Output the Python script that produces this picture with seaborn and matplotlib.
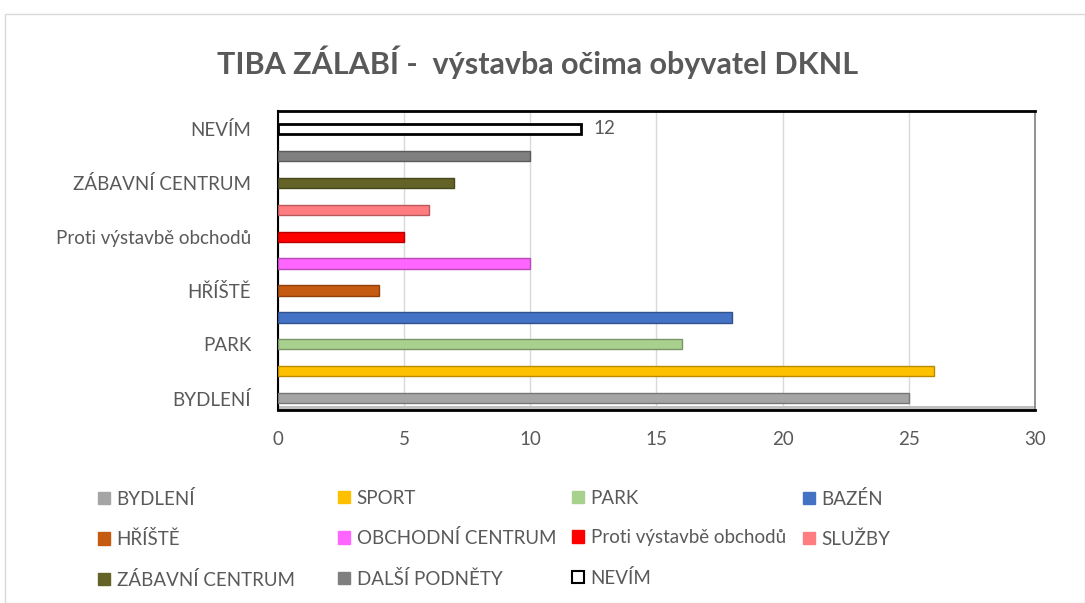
import matplotlib
matplotlib.use("Agg")
import matplotlib.pyplot as plt
import matplotlib.patches as mpatches
import seaborn as sns
import pandas as pd

categories = ["BYDLENÍ", "SPORT", "PARK", "BAZÉN", "HŘÍŠTĚ", "OBCHODNÍ CENTRUM",
              "Proti výstavbě obchodů", "SLUŽBY", "ZÁBAVNÍ CENTRUM", "DALŠÍ PODNĚTY", "NEVÍM"]
values = [25, 26, 16, 18, 4, 10, 5, 6, 7, 10, 12]
colors = ["#A5A5A5", "#FFC000", "#A9D18E", "#4472C4", "#C55A11", "#FF66FF",
          "#FF0000", "#FF7C80", "#636328", "#7F7F7F", "#FFFFFF"]
shown_ticks = ["BYDLENÍ", "PARK", "HŘÍŠTĚ", "Proti výstavbě obchodů", "ZÁBAVNÍ CENTRUM", "NEVÍM"]
x_ticks = [0, 5, 10, 15, 20, 25, 30]

sns.set_style("white")
plt.rcParams["font.family"] = ["Lato", "DejaVu Sans"]
TXT = "#595959"
FS = 13.5

df = pd.DataFrame({"kategorie": categories, "pocet": values})
order = categories[::-1]  # BYDLENÍ at the bottom

fig = plt.figure(figsize=(10.85, 6.03), dpi=100)
ax = fig.add_axes([0.256, 0.320, 0.698, 0.496])

sns.barplot(data=df, y="kategorie", x="pocet", hue="kategorie", order=order,
            hue_order=categories, palette=dict(zip(categories, colors)),
            dodge=False, legend=False, width=0.38, saturation=1, ax=ax, zorder=3)

# darker edge to mimic Excel's 3D bars
for patch in ax.patches:
    fc = patch.get_facecolor()
    if fc[:3] == (1.0, 1.0, 1.0):
        patch.set_edgecolor("black")
        patch.set_linewidth(2)
    else:
        patch.set_edgecolor(tuple(c * 0.72 for c in fc[:3]))
        patch.set_linewidth(1)

ax.set_xlim(0, 30)
ax.set_ylim(len(categories) - 0.56, -0.67)
ax.set_xticks(x_ticks)
ax.set_xticklabels([str(t) for t in x_ticks], fontsize=FS, color=TXT)
ax.tick_params(axis="x", pad=15, length=0)
ax.tick_params(axis="y", length=0, pad=19)
ax.set_yticks(range(len(order)))
ax.set_yticklabels([c if c in shown_ticks else "" for c in order], fontsize=FS, color=TXT)
ax.set_xlabel("")
ax.set_ylabel("")
ax.grid(axis="x", color="#D9D9D9", linewidth=1, zorder=0)

ax.spines["left"].set_color("black")
ax.spines["left"].set_linewidth(1.5)
ax.spines["top"].set_color("black")
ax.spines["top"].set_linewidth(2)
ax.spines["right"].set_color("#7F7F7F")
ax.spines["right"].set_linewidth(1.2)
ax.spines["bottom"].set_color("black")
ax.spines["bottom"].set_linewidth(2)
# grey floor strip of the 3D chart
ax.add_patch(mpatches.Rectangle((0, 0), 1, 0.014, transform=ax.transAxes,
                                facecolor="#BFBFBF", edgecolor="none", zorder=2))

# data label for NEVÍM
ax.text(12 + 0.5, order.index("NEVÍM"), "12", va="center", ha="left", fontsize=FS, color=TXT)

fig.suptitle("TIBA ZÁLABÍ -  výstavba očima obyvatel DKNL", x=0.495, y=0.925,
             fontsize=22, fontweight="bold", color=TXT)

handles = []
for c, col in zip(categories, colors):
    if col == "#FFFFFF":
        handles.append(mpatches.Patch(facecolor="white", edgecolor="black", linewidth=1.5, label=c))
    else:
        handles.append(mpatches.Patch(facecolor=col, edgecolor=col, label=c))

# Excel legend: 4 equal-width columns filled row by row
col_x = [88, 328, 562, 793]
for j, x in enumerate(col_x):
    fig.legend(handles=handles[j::4], loc="upper left",
               bbox_to_anchor=((x - 7) / 1085, 0.216), frameon=False, fontsize=FS,
               labelcolor=TXT, handlelength=0.65, handleheight=0.65, handletextpad=0.35,
               labelspacing=1.2)

# outer chart border
fig.add_artist(mpatches.Rectangle((0.005, 0.0), 0.995, 0.977, transform=fig.transFigure,
                                  fill=False, edgecolor="#D9D9D9", linewidth=1))

fig.savefig("out.png", dpi=100)
